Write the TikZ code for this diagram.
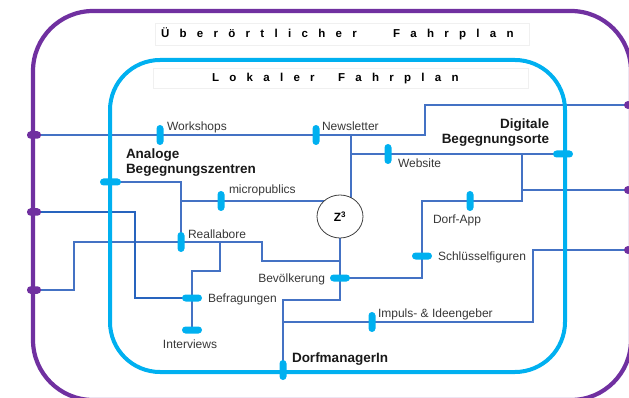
\documentclass[tikz,border=0pt]{standalone}
\usepackage{fontspec}
\setmainfont{Liberation Sans}
\usetikzlibrary{shapes.geometric}
\definecolor{pur}{RGB}{112,48,160}
\definecolor{cya}{RGB}{0,176,240}
\definecolor{lin}{RGB}{68,114,196}
\definecolor{dlin}{RGB}{40,100,190}
\definecolor{txt}{RGB}{55,55,55}
\pgfdeclarelayer{bg}
\pgfsetlayers{bg,main}
\def\spacedx#1{\ifx#1\relax\else\kern10.3pt\relax#1\expandafter\spacedx\fi}
\def\spacedfirst#1{#1\spacedx}
\newcommand\spaced[1]{\spacedfirst#1\relax}
\tikzset{
 every node/.style={inner sep=0pt, outer sep=0pt},
 vmark/.style={fill=cya, minimum width=7pt, minimum height=20pt, rounded corners=3.5pt},
 hmark/.style={fill=cya, minimum width=20pt, minimum height=7pt, rounded corners=3.5pt},
 lmark/.style={fill=pur, minimum width=14pt, minimum height=7.5pt, rounded corners=3.5pt},
 rdot/.style={circle, fill=pur, minimum size=8pt},
 conn/.style={draw=lin, line width=2pt},
 dconn/.style={draw=dlin, line width=2pt},
 lab/.style={font=\fontsize{12}{14}\selectfont, text=txt},
 blab/.style={font=\bfseries\fontsize{13.5}{15}\selectfont, text=black!90},
 ttl/.style={font=\bfseries\fontsize{11.5}{13}\selectfont, text=black},
 tbox/.style={fill=white, draw=black!6, line width=0.6pt},
 zc/.style={ellipse, draw=black!75, fill=white, line width=0.8pt, minimum width=46pt, minimum height=43pt, font=\bfseries\fontsize{12}{14}\selectfont},
 ring/.style={line width=4.2pt, draw=pur, rounded corners=60pt},
 iring/.style={line width=4pt, draw=cya, rounded corners=50pt},
}
\begin{document}
\begin{tikzpicture}[x=1pt,y=-1pt]
\useasboundingbox (0,0) rectangle (629,398);
\clip (0,0) rectangle (629,398);
% rings
\draw[ring] (33,11) rectangle (631,400);
\draw[iring] (110,60) rectangle (565,372);
% title boxes
\node[tbox, minimum width=374pt, minimum height=22pt] (bx1) at (342,34) {};
\node[tbox, minimum width=375pt, minimum height=20pt] (bx2) at (340.5,78) {};
\node[ttl, anchor=base west] (t1a) at (161,38) {\spaced{Überörtlicher}};
\node[ttl, anchor=base west] (t1b) at (393,38) {\spaced{Fahrplan}};
\node[ttl, anchor=base west] (t2a) at (212,82) {\spaced{Lokaler}};
\node[ttl, anchor=base west] (t2b) at (338,82) {\spaced{Fahrplan}};
% outer markers
\node[lmark] (pl1) at (34,135) {};
\node[lmark] (pl2) at (34,212) {};
\node[lmark] (pl3) at (34,290) {};
\node[rdot] (pr1) at (628,105) {};
\node[rdot] (pr2) at (628,190) {};
\node[rdot] (pr3) at (628,250) {};
% stations
\node[vmark] (ws) at (160,135) {};
\node[vmark] (nl) at (316,135) {};
\node[vmark] (wb) at (388,154) {};
\node[hmark] (dg) at (563,154) {};
\node[vmark] (mp) at (221,201) {};
\node[vmark] (da) at (470,201) {};
\node[hmark] (sf) at (422,256) {};
\node[hmark] (bv) at (340,278) {};
\node[vmark] (ra) at (181,242) {};
\node[hmark] (bf) at (192,298) {};
\node[hmark] (iv) at (192,330) {};
\node[vmark] (ip) at (372,322) {};
\node[vmark] (dm) at (283,370) {};
\node[hmark, minimum width=21pt] (ab) at (110.5,182) {};
\node[zc] (z) at (340,216.5) {Z\textsuperscript{3}};
% bend coordinates
\coordinate (wA) at (425,135);
\coordinate (wB) at (425,105);
\coordinate (nT) at (351,135);
\coordinate (nB) at (351,205);
\coordinate (wsL) at (351,154);
\coordinate (d1) at (522,154);
\coordinate (d2) at (522,201);
\coordinate (d3) at (422,201);
\coordinate (d4) at (522,190);
\coordinate (d5) at (422,278);
\coordinate (i1) at (533,250);
\coordinate (i2) at (533,322);
\coordinate (i3) at (283,322);
\coordinate (m1) at (340,300);
\coordinate (m2) at (283,300);
\coordinate (r1) at (74,290);
\coordinate (r2) at (74,242);
\coordinate (r3) at (262,242);
\coordinate (r4) at (262,261);
\coordinate (r5) at (340,261);
\coordinate (b1) at (220,242);
\coordinate (b2) at (220,271);
\coordinate (b3) at (192,271);
\coordinate (k1) at (135,212);
\coordinate (k2) at (135,298);
\coordinate (a1) at (181,182);
\coordinate (mL) at (181,201);
\coordinate (mR) at (340,201);
\begin{pgfonlayer}{bg}
\draw[conn] (pl1.center) -- (ws.center) -- (nl.center) -- (wA) -- (wB) -- (pr1.center);
\draw[conn] (nT) -- (nB);
\draw[conn] (wsL) -- (wb.center) -- (dg.center);
\draw[conn] (d1) -- (d2) -- (da.center) -- (d3) -- (sf.center) -- (d5) -- (bv.center);
\draw[conn] (d4) -- (pr2.center);
\draw[conn] (pr3.center) -- (i1) -- (i2) -- (ip.center) -- (i3);
\draw[conn] (z.center) -- (bv.center) -- (m1) -- (m2) -- (i3) -- (dm.center);
\draw[conn] (pl3.center) -- (r1) -- (r2) -- (ra.center) -- (r3) -- (r4) -- (r5);
\draw[conn] (b1) -- (b2) -- (b3) -- (bf.center) -- (iv.center);
\draw[dconn] (pl2.center) -- (k1) -- (k2) -- (bf.center);
\draw[conn] (ab.center) -- (a1) -- (ra.center);
\draw[conn] (mL) -- (mp.center) -- (mR);
\end{pgfonlayer}
% labels
\node[lab, anchor=base west] (tws) at (167,131) {Workshops};
\node[lab, anchor=base west] (tnl) at (322,131) {Newsletter};
\node[lab, anchor=base west] (twb) at (398,168) {Website};
\node[lab, anchor=base west] (tmp) at (229,194) {micropublics};
\node[lab, anchor=base west] (tda) at (433,223) {Dorf-App};
\node[lab, anchor=base west] (tsf) at (438,260) {Schlüsselfiguren};
\node[lab, anchor=base west] (tra) at (188,238) {Reallabore};
\node[lab, anchor=base east] (tbv) at (325,282) {Bevölkerung};
\node[lab, anchor=base west] (tbf) at (208,302) {Befragungen};
\node[lab, anchor=base] (tiv) at (190,348) {Interviews};
\node[lab, anchor=base west] (tip) at (378,317) {Impuls- \& Ideengeber};
\node[blab, anchor=base west] (tan1) at (126,159) {Analoge};
\node[blab, anchor=base west] (tan2) at (126,174) {Begegnungszentren};
\node[blab, anchor=base east] (tdg1) at (549,129) {Digitale};
\node[blab, anchor=base east] (tdg2) at (549,144) {Begegnungsorte};
\node[blab, anchor=base west] (tdm) at (292,362) {DorfmanagerIn};
\end{tikzpicture}
\end{document}
